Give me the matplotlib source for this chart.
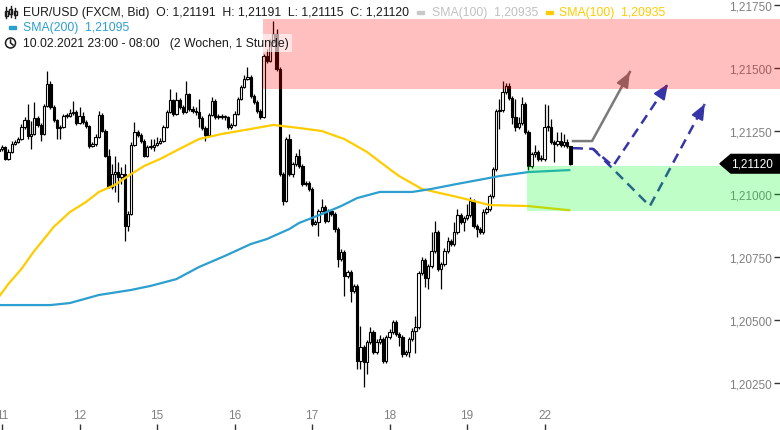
import numpy as np
import matplotlib
matplotlib.use("Agg")
import matplotlib.pyplot as plt
from matplotlib.patches import Rectangle, Polygon, Ellipse
from matplotlib.lines import Line2D
from matplotlib.transforms import blended_transform_factory

plt.rcParams['font.family'] = ['Liberation Sans', 'DejaVu Sans']

# hourly candles, 10.02.2021 23:00 .. 22.02.2021 08:00
day_labels = ["11", "12", "15", "16", "17", "18", "19", "22"]
day_starts = [1, 25, 49, 73, 97, 121, 145, 169]

first_open = 1.21171
close = [
    1.21179, 1.21186, 1.21139, 1.21167, 1.21198, 1.21206, 1.21218, 1.21266, 1.21294, 1.21230,
    1.21238, 1.21302, 1.21274, 1.21238, 1.21349, 1.21437, 1.21345, 1.21294, 1.21262, 1.21266,
    1.21310, 1.21310, 1.21321, 1.21325, 1.21282, 1.21310, 1.21286, 1.21270, 1.21190, 1.21198,
    1.21226, 1.21313, 1.21250, 1.21151, 1.21028, 1.21079, 1.21087, 1.21067, 1.21079, 1.20873,
    1.20920, 1.21194, 1.21246, 1.21234, 1.21210, 1.21151, 1.21186, 1.21186, 1.21194, 1.21202,
    1.21210, 1.21266, 1.21325, 1.21373, 1.21317, 1.21373, 1.21345, 1.21325, 1.21397, 1.21337,
    1.21329, 1.21325, 1.21302, 1.21262, 1.21234, 1.21313, 1.21369, 1.21306, 1.21310, 1.21306,
    1.21306, 1.21266, 1.21274, 1.21317, 1.21377, 1.21425, 1.21456, 1.21464, 1.21389, 1.21365,
    1.21329, 1.21306, 1.21548, 1.21528, 1.21603, 1.21635, 1.21496, 1.21079, 1.20972, 1.21218,
    1.21079, 1.21119, 1.21151, 1.21111, 1.21040, 1.21044, 1.21020, 1.20881, 1.20889, 1.20932,
    1.20948, 1.20893, 1.20932, 1.20920, 1.20861, 1.20742, 1.20770, 1.20674, 1.20690, 1.20615,
    1.20635, 1.20337, 1.20392, 1.20333, 1.20412, 1.20452, 1.20373, 1.20412, 1.20424, 1.20337,
    1.20432, 1.20452, 1.20492, 1.20444, 1.20432, 1.20365, 1.20373, 1.20424, 1.20456, 1.20472,
    1.20686, 1.20738, 1.20666, 1.20714, 1.20774, 1.20849, 1.20702, 1.20722, 1.20774, 1.20813,
    1.20801, 1.20849, 1.20916, 1.20889, 1.20905, 1.20916, 1.20972, 1.20873, 1.20861, 1.20849,
    1.20928, 1.20940, 1.20992, 1.21099, 1.21329, 1.21333, 1.21405, 1.21429, 1.21381, 1.21306,
    1.21266, 1.21282, 1.21357, 1.21246, 1.21111, 1.21159, 1.21167, 1.21139, 1.21139, 1.21266,
    1.21266, 1.21206, 1.21198, 1.21210, 1.21194, 1.21206, 1.21191, 1.21120,
]
high = [
    1.21190, 1.21194, 1.21190, 1.21179, 1.21210, 1.21214, 1.21226, 1.21278, 1.21306, 1.21357,
    1.21290, 1.21365, 1.21310, 1.21282, 1.21357, 1.21488, 1.21448, 1.21353, 1.21298, 1.21274,
    1.21317, 1.21321, 1.21337, 1.21369, 1.21333, 1.21345, 1.21325, 1.21294, 1.21274, 1.21206,
    1.21238, 1.21329, 1.21321, 1.21258, 1.21179, 1.21119, 1.21151, 1.21127, 1.21107, 1.21119,
    1.20932, 1.21206, 1.21286, 1.21254, 1.21242, 1.21218, 1.21194, 1.21218, 1.21218, 1.21226,
    1.21222, 1.21274, 1.21333, 1.21417, 1.21377, 1.21405, 1.21381, 1.21353, 1.21448, 1.21401,
    1.21349, 1.21345, 1.21377, 1.21310, 1.21270, 1.21321, 1.21385, 1.21377, 1.21317, 1.21317,
    1.21313, 1.21310, 1.21282, 1.21329, 1.21385, 1.21433, 1.21472, 1.21504, 1.21472, 1.21397,
    1.21373, 1.21337, 1.21556, 1.21576, 1.21615, 1.21687, 1.21655, 1.21504, 1.21087, 1.21226,
    1.21238, 1.21127, 1.21163, 1.21179, 1.21119, 1.21051, 1.21051, 1.21028, 1.20897, 1.20940,
    1.20980, 1.20956, 1.20940, 1.20936, 1.20928, 1.20869, 1.20782, 1.20778, 1.20698, 1.20698,
    1.20643, 1.20643, 1.20476, 1.20400, 1.20420, 1.20472, 1.20460, 1.20424, 1.20440, 1.20432,
    1.20440, 1.20464, 1.20500, 1.20500, 1.20452, 1.20440, 1.20381, 1.20432, 1.20468, 1.20516,
    1.20694, 1.20750, 1.20746, 1.20722, 1.20849, 1.20893, 1.20857, 1.20730, 1.20785, 1.20829,
    1.20821, 1.20889, 1.20940, 1.20924, 1.20913, 1.20960, 1.20988, 1.20980, 1.20881, 1.20869,
    1.20940, 1.20948, 1.21000, 1.21107, 1.21337, 1.21377, 1.21448, 1.21441, 1.21441, 1.21389,
    1.21377, 1.21306, 1.21385, 1.21365, 1.21254, 1.21167, 1.21194, 1.21175, 1.21155, 1.21357,
    1.21353, 1.21298, 1.21214, 1.21246, 1.21246, 1.21238, 1.21218, 1.21191,
]
low = [
    1.21167, 1.21171, 1.21135, 1.21135, 1.21163, 1.21194, 1.21202, 1.21214, 1.21258, 1.21218,
    1.21179, 1.21234, 1.21266, 1.21210, 1.21234, 1.21345, 1.21337, 1.21286, 1.21218, 1.21218,
    1.21262, 1.21302, 1.21306, 1.21313, 1.21274, 1.21278, 1.21278, 1.21262, 1.21182, 1.21186,
    1.21190, 1.21222, 1.21246, 1.21147, 1.21024, 1.21020, 1.21008, 1.20968, 1.21040, 1.20813,
    1.20853, 1.20916, 1.21190, 1.21226, 1.21202, 1.21147, 1.21147, 1.21179, 1.21171, 1.21190,
    1.21198, 1.21206, 1.21262, 1.21321, 1.21310, 1.21313, 1.21337, 1.21317, 1.21321, 1.21329,
    1.21321, 1.21313, 1.21266, 1.21254, 1.21210, 1.21230, 1.21310, 1.21298, 1.21298, 1.21298,
    1.21294, 1.21258, 1.21258, 1.21270, 1.21313, 1.21373, 1.21421, 1.21452, 1.21381, 1.21357,
    1.21321, 1.21298, 1.21302, 1.21520, 1.21524, 1.21599, 1.21488, 1.21071, 1.20956, 1.20968,
    1.21071, 1.21067, 1.21111, 1.21103, 1.21032, 1.21032, 1.21012, 1.20873, 1.20877, 1.20833,
    1.20928, 1.20885, 1.20889, 1.20913, 1.20849, 1.20710, 1.20734, 1.20595, 1.20666, 1.20571,
    1.20607, 1.20305, 1.20305, 1.20234, 1.20285, 1.20404, 1.20365, 1.20365, 1.20404, 1.20329,
    1.20329, 1.20424, 1.20444, 1.20436, 1.20396, 1.20353, 1.20357, 1.20353, 1.20416, 1.20369,
    1.20464, 1.20678, 1.20631, 1.20623, 1.20706, 1.20766, 1.20694, 1.20623, 1.20714, 1.20766,
    1.20793, 1.20793, 1.20841, 1.20881, 1.20853, 1.20897, 1.20909, 1.20865, 1.20829, 1.20841,
    1.20841, 1.20920, 1.20932, 1.20984, 1.21091, 1.21258, 1.21325, 1.21397, 1.21373, 1.21278,
    1.21250, 1.21258, 1.21274, 1.21238, 1.21095, 1.21103, 1.21147, 1.21131, 1.21131, 1.21131,
    1.21250, 1.21198, 1.21127, 1.21190, 1.21186, 1.21186, 1.21182, 1.21115,
]

# moving averages, read at a few candles
sma100_idx = [0, 3, 7, 11, 14, 17, 22, 27, 31, 36, 40, 45, 50, 56, 62, 69, 78, 85, 93,
              100, 107, 114, 121, 124, 131, 142, 152, 164, 177]
sma100 = [1.20591, 1.20643, 1.20702, 1.20774, 1.20821, 1.20869, 1.20928, 1.20968, 1.21008,
          1.21036, 1.21071, 1.21111, 1.21139, 1.21179, 1.21218, 1.21238, 1.21258, 1.21274,
          1.21262, 1.21250, 1.21218, 1.21167, 1.21099, 1.21071, 1.21020, 1.20988, 1.20956,
          1.20952, 1.20935]
sma200_idx = [0, 16, 22, 31, 41, 47, 55, 62, 70, 78, 83, 90, 93, 100, 106, 111, 118, 128,
              134, 142, 150, 155, 164, 177]
sma200 = [1.20559, 1.20559, 1.20567, 1.20599, 1.20619, 1.20635, 1.20662, 1.20710, 1.20754,
          1.20801, 1.20821, 1.20861, 1.20885, 1.20920, 1.20952, 1.20984, 1.21008, 1.21008,
          1.21020, 1.21040, 1.21059, 1.21071, 1.21087, 1.21095]

# zones (start candle, lower, upper)
resist_start, resist_lo, resist_hi = 81.8, 1.21417, 1.21695
support_start, support_lo, support_hi = 163.5, 1.20932, 1.21111

# scenario arrows (candle index, price)
gray_path = [(177.8, 1.21210), (183.7, 1.21210), (195.4, 1.21484)]
blue_path_a = [(177.8, 1.21182), (184.0, 1.21179), (190.2, 1.21111), (207.2, 1.21437)]
blue_path_b = [(184.0, 1.21179), (201.6, 1.20952), (218.6, 1.21357)]

fig = plt.figure(figsize=(7.8, 4.31), dpi=100)
ax = fig.add_axes([0, 0, 1, 1])
for s in ax.spines.values():
    s.set_visible(False)

c = np.array(close)
o = np.r_[first_open, c[:-1]]
x = np.arange(len(c))
up = c >= o
ax.vlines(x, low, high, color='black', lw=0.9, zorder=2)
hgt = np.maximum(np.abs(c - o), 0.00003)
ax.bar(x[up], hgt[up], bottom=o[up], width=0.72, color='white', edgecolor='black', lw=0.8, zorder=3)
ax.bar(x[~up], hgt[~up], bottom=c[~up], width=0.72, color='black', edgecolor='black', lw=0.8, zorder=3)

ax.plot(sma100_idx, sma100, color='#ffcc00', lw=1.6, zorder=4, solid_capstyle='butt')
ax.plot(sma200_idx, sma200, color='#2b9fcf', lw=1.6, zorder=4, solid_capstyle='butt')

def arrow(path, color, ls):
    px, py = zip(*path)
    ax.plot(px, py, color=color, lw=1.8, ls=ls, zorder=4, dashes=(4, 2.5) if ls == '--' else (None, None))
    (x0, y0), (x1, y1) = path[-2], path[-1]
    t = 0.97
    ax.annotate('', xy=(x1, y1), xytext=(x0 + (x1 - x0) * t, y0 + (y1 - y0) * t),
                arrowprops=dict(arrowstyle='-|>,head_length=0.9,head_width=0.38',
                                color=color, lw=1.5, mutation_scale=10, shrinkA=0, shrinkB=0),
                zorder=4)

arrow(gray_path, '#7a7a7a', '-')
arrow(blue_path_a, '#3535a8', '--')
arrow(blue_path_b, '#3535a8', '--')

x_left, x_right = 0.381, 241.9
ax.add_patch(Rectangle((resist_start, resist_lo), x_right - resist_start + 1, resist_hi - resist_lo,
                       color='#ff0000', alpha=0.25, lw=0, zorder=5))
ax.add_patch(Rectangle((support_start, support_lo), x_right - support_start + 1, support_hi - support_lo,
                       color='#00ff22', alpha=0.25, lw=0, zorder=5))

ax.set_xlim(x_left, x_right)
ax.set_ylim(1.20063, 1.21774)

yt = [1.2025, 1.2050, 1.2075, 1.2100, 1.2125, 1.2150, 1.2175]
ax.yaxis.tick_right()
ax.set_yticks(yt)
ax.set_yticklabels([f"{v:.5f}".replace('.', ',') for v in yt])
ax.tick_params(axis='y', direction='in', length=4.5, width=1, color='#333333',
               pad=-6, labelsize=8.5, labelcolor='#808080')
for lbl in ax.get_yticklabels():
    lbl.set_horizontalalignment('right')

ax.set_xticks(day_starts)
ax.set_xticklabels(day_labels)
ax.tick_params(axis='x', direction='in', length=4, width=1, color='#333333',
               pad=-15, labelsize=8.5, labelcolor='#808080')

# last price marker
last = close[-1]
tr = blended_transform_factory(ax.transAxes, ax.transData)
hh = 0.00037
ax.add_patch(Polygon([(0.923, last), (0.937, last + hh), (1.0, last + hh), (1.0, last - hh), (0.937, last - hh)],
                     closed=True, transform=tr, color='black', zorder=7, clip_on=False))
ax.text(0.991, last, f"{last:.5f}".replace('.', ','), transform=tr, color='white', fontsize=8.5,
        ha='right', va='center', zorder=8)

# header
W, H = 780.0, 431.0
def fx(px):
    return px / W
def fy(py):
    return 1 - py / H

fmt = lambda v: f"{v:.5f}".replace('.', ',')
head = (f"EUR/USD (FXCM, Bid)  O: {fmt(o[-1])}  H: {fmt(high[-1])}  "
        f"L: {fmt(low[-1])}  C: {fmt(close[-1])}")
fs = 8.8
fig.text(fx(23), fy(13), head, fontsize=fs, color='#1a1a1a', va='center', ha='left', zorder=10)
fig.patches.append(Rectangle((fx(417), fy(15)), 7 / W, 3 / H, transform=fig.transFigure, color='#c8c8c8'))
fig.text(fx(432), fy(13), f"SMA(100)  {fmt(sma100[-1])}", fontsize=fs, color='#c0c0c0', va='center')
fig.patches.append(Rectangle((fx(546), fy(15)), 7 / W, 3 / H, transform=fig.transFigure, color='#ffcc00'))
fig.text(fx(559), fy(13), f"SMA(100)  {fmt(sma100[-1])}", fontsize=fs, color='#ffcc00', va='center')

fig.patches.append(Rectangle((fx(9), fy(30)), 7 / W, 3 / H, transform=fig.transFigure, color='#2b9fcf'))
fig.text(fx(23), fy(28), f"SMA(200)  {fmt(sma200[-1])}", fontsize=fs, color='#2b9fcf', va='center')

fig.text(fx(23), fy(44), "10.02.2021 23:00 - 08:00   (2 Wochen, 1 Stunde)", fontsize=fs,
         color='#1a1a1a', va='center',
         bbox=dict(boxstyle='square,pad=0.25', fc='white', ec='none', alpha=0.6))

# icons
fig.patches.append(Ellipse((fx(10.5), fy(44)), 10 / W, 10 / H, transform=fig.transFigure,
                           fill=False, ec='#1a1a1a', lw=1.1))
fig.lines.append(Line2D([fx(10.5), fx(10.5), fx(13)], [fy(41), fy(44), fy(46)],
                        transform=fig.transFigure, color='#1a1a1a', lw=1.1))
for cx, b0, b1, w0, w1 in [(6, 12, 17, 8, 19), (10.5, 10, 15, 7, 18), (15, 12, 16, 9, 19)]:
    fig.lines.append(Line2D([fx(cx), fx(cx)], [fy(w0), fy(w1)], transform=fig.transFigure,
                            color='#1a1a1a', lw=1))
    fig.patches.append(Rectangle((fx(cx - 1.5), fy(b1)), 3 / W, (b1 - b0) / H,
                                 transform=fig.transFigure, fc='white', ec='#1a1a1a', lw=1))

fig.savefig("out.png", dpi=100)
